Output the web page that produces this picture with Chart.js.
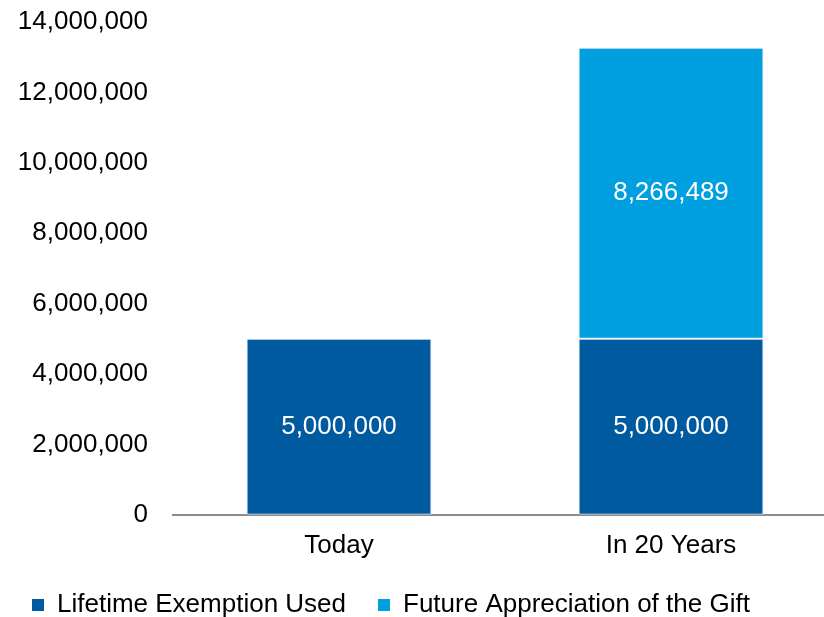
<!DOCTYPE html>
<html lang="en">
<head>
    <meta charset="UTF-8">
    <title>Gift exemption</title>
    <style>
        html, body {
            margin: 0;
            padding: 0;
            background: #fff;
            overflow: hidden;
        }

        #chartBlock {
            width: 824px;
            height: 617px;
            overflow: hidden;
            position: relative;
        }
    </style>
</head>

<body>
    <div id="chartBlock">
        <canvas id="giftChart" width="840" height="628"></canvas>
    </div>

<script src="https://cdn.jsdelivr.net/npm/chart.js@4/dist/chart.umd.min.js"></script>
<script>
    // chart values
    var categories = ['Today', 'In 20 Years'];
    var exemptionUsed = [5000000, 5000000];
    var appreciation = [null, 8266489];
    var seriesNames = ['Lifetime Exemption Used', 'Future Appreciation of the Gift'];
    var yTicks = [0, 2000000, 4000000, 6000000, 8000000, 10000000, 12000000, 14000000];

    var darkBlue = '#005aa0';
    var lightBlue = '#00a0e0';
    var fontFamily = '"Liberation Sans", Arial, sans-serif';

    function fmt(v) {
        return Number(v).toLocaleString('en-US');
    }

    // writes each segment's value in the middle of the bar
    var barValues = {
        id: 'barValues',
        afterDatasetsDraw: function (chart) {
            var ctx = chart.ctx;
            ctx.save();
            ctx.font = '26px ' + fontFamily;
            ctx.fillStyle = '#ffffff';
            ctx.textAlign = 'center';
            ctx.textBaseline = 'middle';
            chart.data.datasets.forEach(function (ds, i) {
                var meta = chart.getDatasetMeta(i);
                meta.data.forEach(function (bar, j) {
                    var v = ds.data[j];
                    if (v == null) return;
                    ctx.fillText(fmt(v), bar.x, (bar.y + bar.base) / 2);
                });
            });
            ctx.restore();
        }
    };

    var ctx = document.getElementById('giftChart').getContext('2d');

    var giftChart = new Chart(ctx, {
        type: 'bar',
        data: {
            labels: categories,
            datasets: [
                {
                    label: seriesNames[0],
                    data: exemptionUsed,
                    backgroundColor: darkBlue,
                    borderColor: '#dde2ea',
                    borderWidth: 1,
                    borderSkipped: false,
                    categoryPercentage: 1,
                    barPercentage: 0.557
                },
                {
                    label: seriesNames[1],
                    data: appreciation,
                    backgroundColor: lightBlue,
                    borderColor: '#dde2ea',
                    borderWidth: 1,
                    borderSkipped: false,
                    categoryPercentage: 1,
                    barPercentage: 0.557
                }
            ]
        },
        options: {
            responsive: false,
            animation: false,
            devicePixelRatio: 1,
            layout: {
                padding: { top: 22, left: 0, right: 3, bottom: 0 }
            },
            plugins: {
                tooltip: { enabled: false },
                legend: {
                    position: 'bottom',
                    align: 'start',
                    labels: {
                        color: '#000',
                        font: { family: fontFamily, size: 26 },
                        boxWidth: 12,
                        boxHeight: 12,
                        padding: 32,
                        generateLabels: function (chart) {
                            return chart.data.datasets.map(function (ds, i) {
                                return {
                                    text: ds.label,
                                    fillStyle: ds.backgroundColor,
                                    strokeStyle: ds.backgroundColor,
                                    lineWidth: 0,
                                    fontColor: '#000',
                                    datasetIndex: i
                                };
                            });
                        }
                    }
                }
            },
            scales: {
                x: {
                    stacked: true,
                    grid: { display: false, drawTicks: false },
                    border: { display: true, color: '#8c8c8c', width: 2 },
                    ticks: {
                        color: '#000',
                        font: { family: fontFamily, size: 26 },
                        padding: 15
                    },
                    afterFit: function (scale) {
                        // legend below already leaves plenty of room
                        scale.height -= 16;
                    }
                },
                y: {
                    stacked: true,
                    min: yTicks[0],
                    max: yTicks[yTicks.length - 1],
                    grid: { display: false, drawTicks: false },
                    border: { display: false },
                    afterBuildTicks: function (scale) {
                        scale.ticks = yTicks.map(function (v) { return { value: v }; });
                    },
                    ticks: {
                        color: '#000',
                        font: { family: fontFamily, size: 26 },
                        padding: 25,
                        callback: function (v) { return fmt(v); }
                    },
                    afterFit: function (scale) {
                        scale.width = 173;
                        // top label only needs the layout padding
                        scale.paddingTop = 0;
                    }
                }
            }
        },
        plugins: [barValues]
    });
</script>
</body>
</html>
